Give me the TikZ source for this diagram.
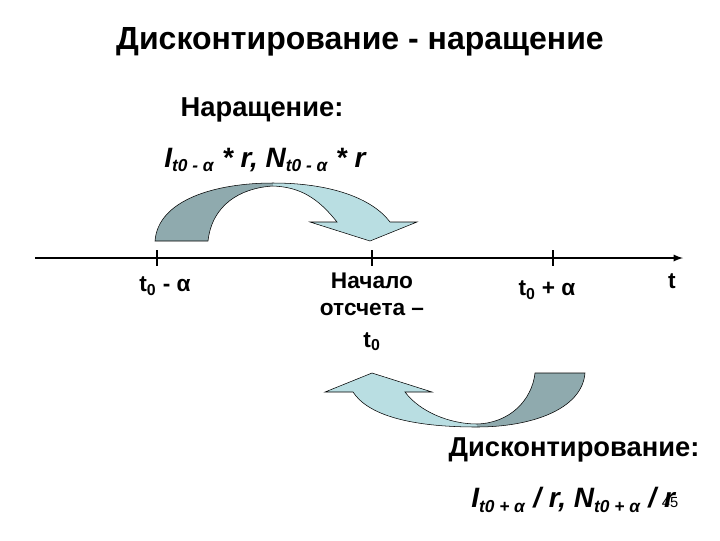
\documentclass[tikz,border=0pt]{standalone}
\usepackage{fontspec}
\setmainfont{Liberation Sans}
\begin{document}
\begin{tikzpicture}[x=0.75pt,y=-0.75pt,
  lbl/.style={font=\bfseries\fontsize{17}{20}\selectfont, inner sep=0pt},
  bold/.style={font=\bfseries\fontsize{20.5}{24}\selectfont, inner sep=0pt},
  frm/.style={font=\bfseries\itshape\fontsize{21}{25}\selectfont, inner sep=0pt},
  tick/.style={line width=1.3pt},
  darkp/.style={fill={rgb,255:red,143;green,170;blue,174}},
  lightp/.style={fill={rgb,255:red,185;green,222;blue,226}},
  outl/.style={draw=black, line width=0.4pt}]
\useasboundingbox (0,0) rectangle (720,540);
\node[font=\bfseries\fontsize{24}{28}\selectfont, inner sep=0pt] (title) at (360,42) {Дисконтирование - наращение};
\node[bold] (nar) at (262,110) {Наращение:};
\node[frm,anchor=west] (f1) at (164,160) {I\textsubscript{\fontsize{13}{15}\selectfont t0 - α} * r, N\textsubscript{\fontsize{13}{15}\selectfont t0 - α} * r};
% axis
\coordinate (a0) at (35,258);
\coordinate (a1) at (683,258);
\draw[line width=1.4pt,-latex] (a0) -- (a1);
\foreach \x/\n in {157/k1,372/k2,553/k3}{
  \coordinate (\n) at (\x,258);
  \draw[tick] ([yshift=6pt]\n) -- ([yshift=-6pt]\n);}
% top arrow
\path[darkp] (155,241) .. controls (158,200) and (215,183) .. (273,183) -- (273,186)
  .. controls (240,188) and (212,205) .. (208,241) -- cycle;
\path[lightp] (273,183) .. controls (330,183) and (372,198) .. (390,222) -- (417,222) -- (370,241)
  -- (310,222) -- (337,222) .. controls (318,198) and (300,187) .. (273,186) -- cycle;
\path[outl] (155,241) .. controls (158,200) and (215,183) .. (273,183)
  .. controls (330,183) and (372,198) .. (390,222) -- (417,222) -- (370,241)
  -- (310,222) -- (337,222) .. controls (318,198) and (300,187) .. (273,186)
  .. controls (240,188) and (212,205) .. (208,241) -- cycle;
% bottom arrow
\path[darkp] (585,373) .. controls (582,410) and (530,427) .. (477,427) -- (477,424)
  .. controls (510,423) and (532,400) .. (535,373) -- cycle;
\path[lightp] (477,427) .. controls (410,427) and (368,415) .. (353,392) -- (325,392) -- (372,373)
  -- (432,392) -- (405,392) .. controls (420,412) and (450,424) .. (477,424) -- cycle;
\path[outl] (585,373) .. controls (582,410) and (530,427) .. (477,427)
  .. controls (410,427) and (368,415) .. (353,392) -- (325,392) -- (372,373)
  -- (432,392) -- (405,392) .. controls (420,412) and (450,424) .. (477,424)
  .. controls (510,423) and (532,400) .. (535,373) -- cycle;
% labels
\node[lbl] (l1) at (165,286) {t\textsubscript{0} - α};
\node[lbl,align=center] (l2) at (372,312) {Начало\\отсчета –\\[4pt]t\textsubscript{0}};
\node[lbl] (l3) at (547,290) {t\textsubscript{0} + α};
\node[lbl] (l4) at (672,281) {t};
\node[bold] (disc) at (574,450) {Дисконтирование:};
\node[frm,anchor=west] (f2) at (471,500) {I\textsubscript{\fontsize{13}{15}\selectfont t0 + α} / r, N\textsubscript{\fontsize{13}{15}\selectfont t0 + α} / r};
\node[font=\fontsize{11}{12}\selectfont, inner sep=0pt] (num) at (670,503) {45};
\end{tikzpicture}
\end{document}
